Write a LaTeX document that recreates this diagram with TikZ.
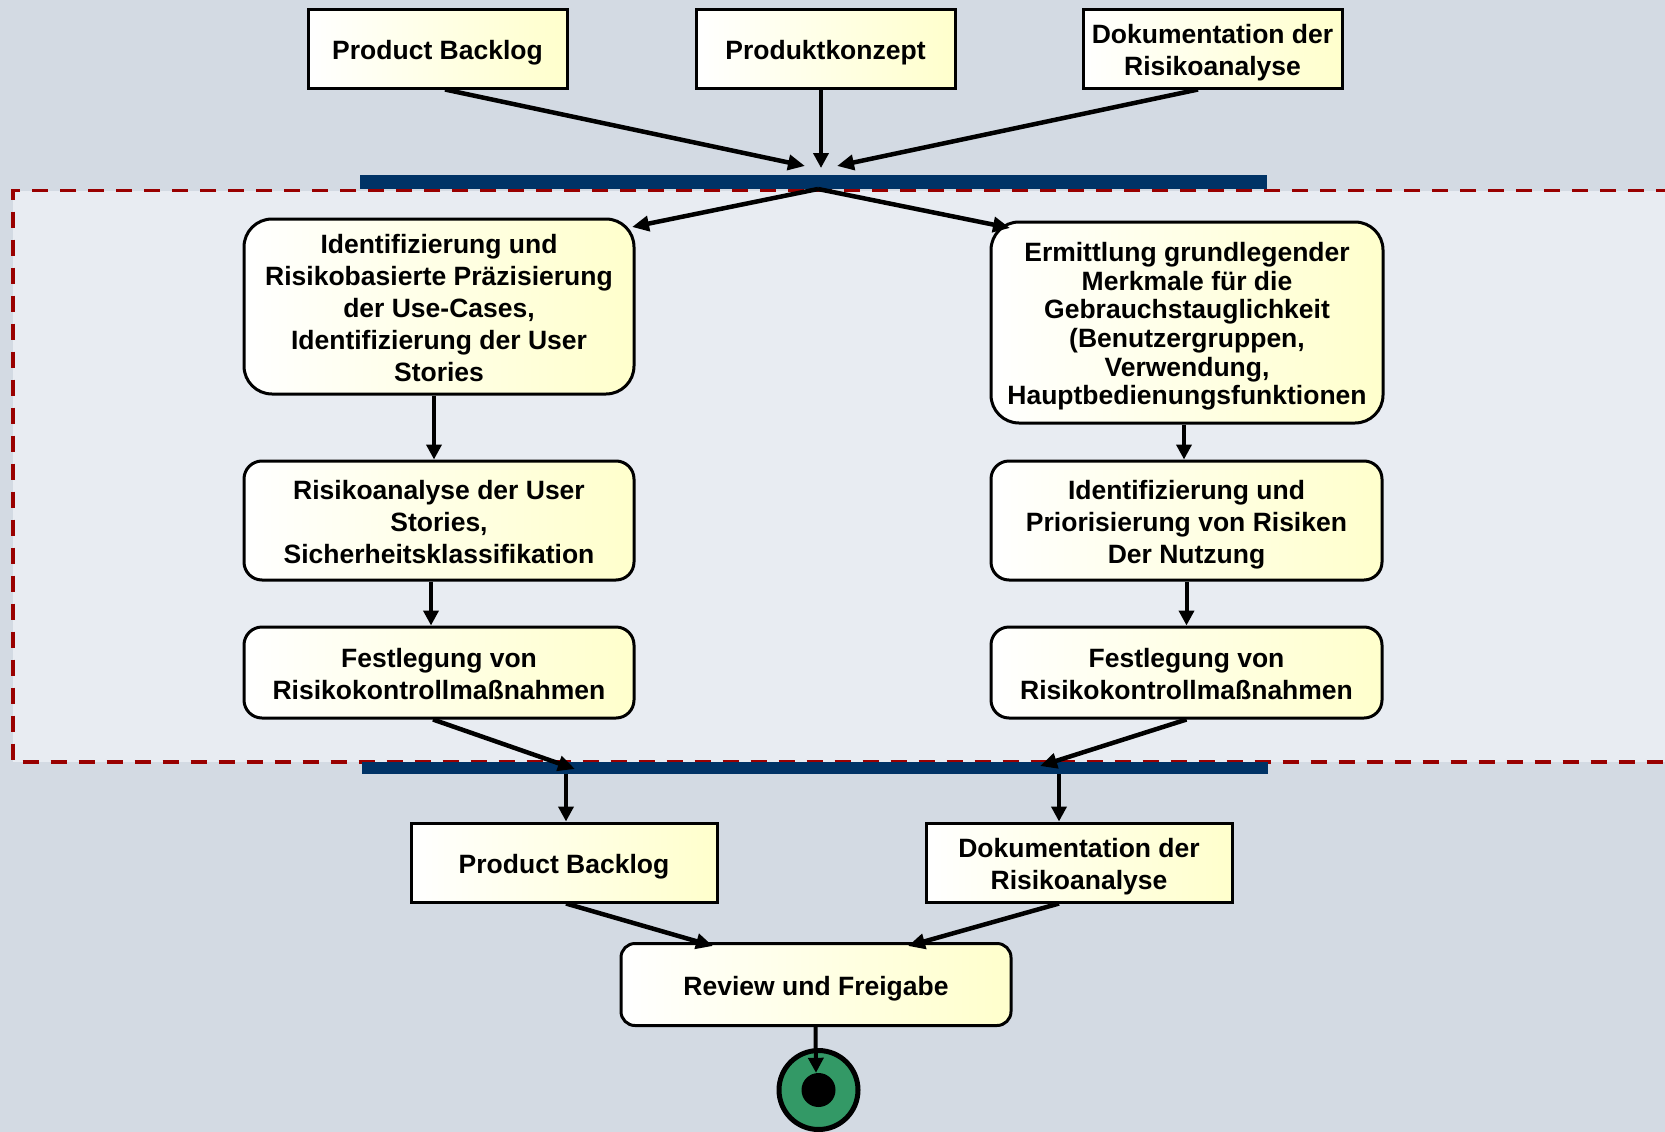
\documentclass[tikz,border=0pt]{standalone}
\usepackage{fontspec}
\setmainfont{Liberation Sans}
\usetikzlibrary{arrows.meta,calc}
\definecolor{bgc}{RGB}{211,218,227}
\definecolor{regc}{RGB}{232,236,242}
\definecolor{barc}{RGB}{0,51,102}
\definecolor{dashc}{RGB}{153,0,0}
\definecolor{boxy}{RGB}{255,255,204}
\definecolor{endg}{RGB}{51,153,102}
\newcommand\tstr{\rule{0pt}{27pt}}
\newcommand\bstr{\rule[-5.6pt]{0pt}{0pt}}
\begin{document}
\begin{tikzpicture}[x=1pt,y=-1pt,
 box/.style={draw=black,line width=3pt,left color=white,right color=boxy,align=center,
   font=\bfseries\fontsize{26.5}{32}\selectfont,inner sep=0pt},
 rbox/.style={box,rounded corners=18pt},
 barbox/.style={fill=barc,inner sep=0pt},
 arr/.style={line width=4.5pt,-{Triangle[length=17pt,width=15pt]}},
 varr/.style={line width=4pt,-{Triangle[length=15pt,width=15pt]}},
]
\useasboundingbox (0,0) rectangle (1665,1132);
\fill[bgc] (0,0) rectangle (1665,1132);
\fill[regc] (13,191) rectangle (1665,762);

\draw[dashc,line width=3.5pt,dash pattern=on 16pt off 12pt] (1672,190.5) -- (13,190.5) -- (13,762) -- (1672,762);

% bars
\node[barbox,minimum width=907pt,minimum height=14pt] (bar1) at (813.5,182) {};
\node[barbox,minimum width=906pt,minimum height=12pt] (bar2) at (815,768) {};

% top boxes
\node[box,minimum width=259pt,minimum height=78pt] (pb1) at (437.5,49) {\tstr Product Backlog\bstr};
\node[box,minimum width=259pt,minimum height=78pt] (pk) at (825.5,49) {\tstr Produktkonzept\bstr};
\node[box,minimum width=259pt,minimum height=78pt] (dr1) at (1212.5,49) {\tstr Dokumentation der\\Risikoanalyse\bstr};

% left column
\node[rbox,rounded corners=28pt,minimum width=390pt,minimum height=175pt] (l1) at (439,306.5)
 {\tstr Identifizierung und\\Risikobasierte Präzisierung\\der Use-Cases,\\Identifizierung der User\\Stories\bstr};
\node[rbox,minimum width=390pt,minimum height=119pt] (l2) at (439,520.5)
 {\tstr Risikoanalyse der User\\Stories,\\Sicherheitsklassifikation\bstr};
\node[rbox,minimum width=390pt,minimum height=91pt] (l3) at (439,672.5)
 {\tstr Festlegung von\\Risikokontrollmaßnahmen\bstr};

% right column
\node[rbox,rounded corners=28pt,minimum width=392pt,minimum height=201pt,
 font=\bfseries\fontsize{26.5}{28.7}\selectfont] (r1) at (1187,322.5)
 {\tstr Ermittlung grundlegender\\Merkmale für die\\Gebrauchstauglichkeit\\(Benutzergruppen,\\Verwendung,\\Hauptbedienungsfunktionen\bstr};
\node[rbox,minimum width=391pt,minimum height=119pt] (r2) at (1186.5,520.5)
 {\tstr Identifizierung und\\Priorisierung von Risiken\\Der Nutzung\bstr};
\node[rbox,minimum width=391pt,minimum height=91pt] (r3) at (1186.5,672.5)
 {\tstr Festlegung von\\Risikokontrollmaßnahmen\bstr};

% bottom boxes
\node[box,minimum width=306pt,minimum height=79pt] (pb2) at (564,862.5) {\tstr Product Backlog\bstr};
\node[box,minimum width=306pt,minimum height=79pt] (dr2) at (1079,862.5) {\tstr Dokumentation der\\Risikoanalyse\bstr};
\node[rbox,rounded corners=14pt,minimum width=390pt,minimum height=82pt] (rv) at (816,984.5) {\tstr Review und Freigabe\bstr};

% end node
\node[circle,draw=black,line width=5pt,fill=endg,minimum size=79pt,inner sep=0pt] (fin) at (818.5,1090) {};
\node[circle,fill=black,minimum size=34pt,inner sep=0pt] (fin2) at (818.5,1090) {};

% coordinates on bars
\coordinate (t1) at (805,166);
\coordinate (t2) at (821,168);
\coordinate (t3) at (837,166);
\coordinate (bo) at (818,189);
\coordinate (tl) at (632,227);
\coordinate (tr) at (1010,228);
\coordinate (b2l) at (575,769);
\coordinate (b2r) at (1040,766);
\coordinate (b2a) at (566,774);
\coordinate (b2b) at (1059,774);
\coordinate (rvl) at (713,946);
\coordinate (rvr) at (908,946);

% arrows
\draw[arr] ([xshift=7.5pt]pb1.south) -- (t1);
\draw[varr] ([xshift=-4.5pt]pk.south) -- (t2);
\draw[arr] ([xshift=-14.5pt]dr1.south) -- (t3);
\draw[arr] (bo) -- (tl);
\draw[arr] (bo) -- (tr);
\draw[varr] ([xshift=-5pt]l1.south) -- ([xshift=-5pt]l2.north);
\draw[varr] ([xshift=-8pt]l2.south) -- ([xshift=-8pt]l3.north);
\draw[varr] ([xshift=-3pt]r1.south) -- ([xshift=-2.5pt]r2.north);
\draw[varr] ([xshift=0pt]r2.south) -- ([xshift=0pt]r3.north);
\draw[arr] ([xshift=-6pt]l3.south) -- (b2l);
\draw[arr] ([xshift=0pt]r3.south) -- (b2r);
\draw[varr] (b2a) -- (b2a |- pb2.north);
\draw[varr] (b2b) -- (b2b |- dr2.north);
\draw[arr] ([xshift=2pt]pb2.south) -- (rvl);
\draw[arr] ([xshift=-20pt]dr2.south) -- (rvr);
\draw[varr] ([xshift=-0.5pt]rv.south) -- ([xshift=-2.5pt]fin2.north);
\end{tikzpicture}
\end{document}
